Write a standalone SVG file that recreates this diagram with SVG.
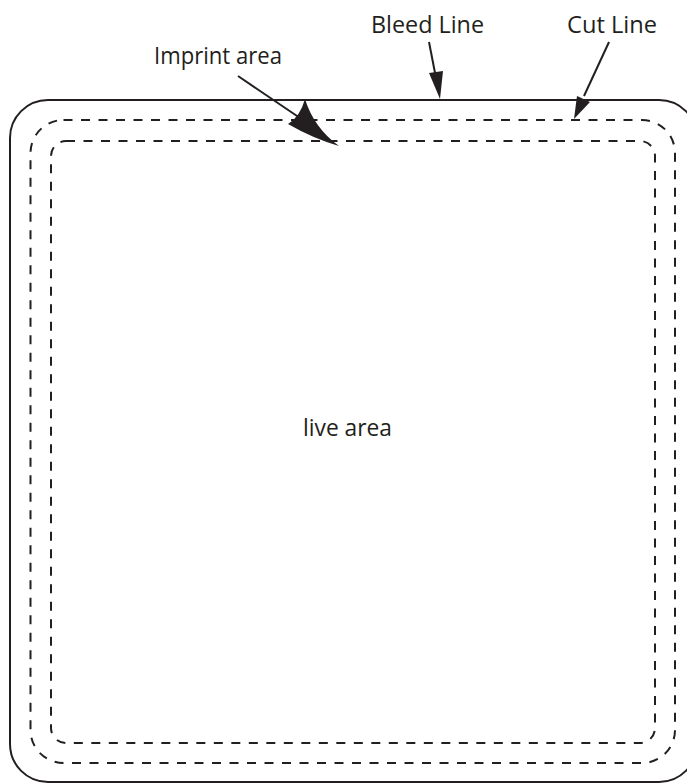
<svg xmlns="http://www.w3.org/2000/svg" width="687" height="783" viewBox="0 0 687 783">
<style>
.solid{fill:none;stroke:#231f20;stroke-width:2}
.dash{fill:none;stroke:#231f20;stroke-width:2;stroke-dasharray:9 8.5}
.lbl{font-family:"Open Sans","Liberation Sans",sans-serif;font-size:24px;fill:#231f20}
.ln{stroke:#231f20;stroke-width:2;fill:none}
.hd{fill:#231f20;stroke:none}
</style>
<rect width="687" height="783" fill="#ffffff"/>
<g id="bleed-line-shape"><rect class="solid" x="10" y="100" width="687" height="682" rx="38" ry="38"/></g>
<g id="cut-line-shape"><rect class="dash" x="30.5" y="120" width="644.5" height="643" rx="33" ry="33"/></g>
<g id="imprint-area-shape"><rect class="dash" x="51" y="141" width="604" height="602" rx="15" ry="15"/></g>
<g id="live-area"><text class="lbl" x="303" y="436" textLength="89" lengthAdjust="spacingAndGlyphs">live area</text></g>
<g id="label-imprint"><text class="lbl" x="154" y="64" textLength="128" lengthAdjust="spacingAndGlyphs">Imprint area</text></g>
<g id="label-bleed"><text class="lbl" x="371" y="33" textLength="113" lengthAdjust="spacingAndGlyphs">Bleed Line</text></g>
<g id="label-cut"><text class="lbl" x="567" y="33" textLength="90" lengthAdjust="spacingAndGlyphs">Cut Line</text></g>
<g id="connectors">
<line class="ln" x1="238" y1="76" x2="300" y2="118"/>
<path class="hd" d="M305,99 Q314,128 339,146 Q312,138 288,124 Q300,117 305,99 Z"/>
<line class="ln" x1="429" y1="42" x2="436" y2="78"/>
<path class="hd" d="M440,99 L429,73 L443,71 Z"/>
<line class="ln" x1="609" y1="42" x2="584" y2="96"/>
<path class="hd" d="M574,119 L577,96 L590,102 Z"/>
</g>
</svg>
